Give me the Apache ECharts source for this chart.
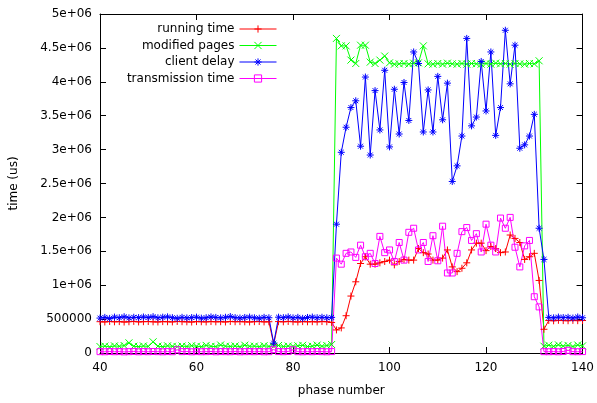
<!DOCTYPE html>
<html>
<head>
<meta charset="utf-8">
<script src="https://cdn.jsdelivr.net/npm/echarts@6/dist/echarts.min.js"></script>
<style>
  html, body { margin: 0; padding: 0; background: #fff; }
  #chart { width: 597px; height: 403px; }
</style>
</head>
<body>
<div id="chart"></div>
<script>
// phase numbers 40..140
const phases = Array.from({length: 101}, (_, i) => 40 + i);

const runningTime = [
  462000, 458000, 465000, 460000, 463000, 457000, 461000, 466000, 459000, 462000,
  464000, 460000, 458000, 463000, 461000, 459000, 465000, 462000, 460000, 457000,
  463000, 461000, 459000, 464000, 460000, 462000, 458000, 465000, 461000, 463000,
  460000, 458000, 462000, 464000, 459000, 461000, 130000, 463000, 460000, 465000,
  461000, 458000, 463000, 460000, 462000, 459000, 464000, 461000, 450000,
  340000, 370000, 550000, 840000, 1050000, 1320000, 1420000, 1310000, 1310000, 1330000,
  1350000, 1370000, 1300000, 1350000, 1380000, 1370000, 1370000, 1540000, 1480000, 1460000,
  1370000, 1370000, 1400000, 1520000, 1270000, 1200000, 1250000, 1330000, 1520000, 1620000,
  1620000, 1510000, 1570000, 1540000, 1480000, 1490000, 1740000, 1690000, 1630000, 1380000,
  1420000, 1470000, 1070000,
  350000, 480000, 475000, 482000, 478000, 476000, 481000, 477000, 479000
];

const modifiedPages = [
  95000, 102000, 90000, 105000, 98000, 110000, 150000, 100000, 93000, 104000,
  97000, 165000, 101000, 92000, 106000, 99000, 94000, 103000, 96000, 108000,
  100000, 93000, 112000, 98000, 95000, 118000, 101000, 97000, 104000, 92000,
  115000, 99000, 102000, 94000, 108000, 97000, 100000, 111000, 96000, 103000,
  98000, 106000, 114000, 95000, 101000, 117000, 99000, 110000, 125000,
  4640000, 4530000, 4530000, 4320000, 4270000, 4540000, 4540000, 4290000, 4270000, 4320000,
  4380000, 4280000, 4260000, 4265000, 4270000, 4260000, 4275000, 4280000, 4530000, 4265000,
  4260000, 4270000, 4260000, 4275000, 4265000, 4260000, 4270000, 4260000, 4270000, 4265000,
  4260000, 4270000, 4260000, 4275000, 4265000, 4270000, 4260000, 4270000, 4265000, 4260000,
  4270000, 4265000, 4310000,
  100000, 115000, 98000, 120000, 102000, 112000, 96000, 118000, 105000
];

const clientDelay = [
  515000, 525000, 510000, 530000, 520000, 535000, 518000, 527000, 522000, 531000,
  524000, 536000, 519000, 528000, 533000, 521000, 512000, 526000, 517000, 523000,
  529000, 514000, 520000, 532000, 525000, 518000, 527000, 538000, 522000, 516000,
  524000, 530000, 519000, 513000, 526000, 520000, 145000, 528000, 521000, 533000,
  518000, 526000, 511000, 524000, 530000, 520000, 527000, 519000, 525000,
  1900000, 2960000, 3330000, 3620000, 3720000, 3050000, 4070000, 2920000, 3870000, 3290000,
  4170000, 3040000, 3890000, 3230000, 3990000, 3430000, 4440000, 4270000, 3260000, 3880000,
  3260000, 4080000, 3440000, 3980000, 2530000, 2760000, 3200000, 4640000, 3350000, 3480000,
  4300000, 3570000, 4440000, 3210000, 3620000, 4760000, 3970000, 4540000, 3020000, 3070000,
  3200000, 3520000, 1840000,
  1380000, 525000, 518000, 530000, 522000, 527000, 515000, 531000, 520000
];

const transmissionTime = [
  20000, 18000, 22000, 19000, 21000, 17000, 20000, 23000, 18000, 21000,
  19000, 22000, 20000, 18000, 21000, 19000, 48000, 20000, 22000, 18000,
  21000, 19000, 20000, 23000, 18000, 21000, 20000, 19000, 22000, 18000,
  20000, 21000, 19000, 22000, 18000, 20000, 50000, 21000, 19000, 22000,
  48000, 20000, 18000, 21000, 19000, 22000, 20000, 18000, 21000,
  1400000, 1310000, 1470000, 1490000, 1410000, 1590000, 1420000, 1470000, 1320000, 1720000,
  1480000, 1520000, 1350000, 1630000, 1370000, 1780000, 1840000, 1520000, 1630000, 1350000,
  1730000, 1360000, 1870000, 1180000, 1180000, 1470000, 1790000, 1850000, 1660000, 1760000,
  1490000, 1900000, 1590000, 1490000, 1990000, 1840000, 2000000, 1560000, 1270000, 1580000,
  1660000, 830000, 680000,
  20000, 19000, 21000, 18000, 22000, 40000, 20000, 19000, 21000
];

// gnuplot-like point types
const PLUS = 'path://M0,5L10,5M5,0L5,10';
const CROSS = 'path://M0,0L10,10M0,10L10,0';
const STAR = 'path://M0,5L10,5M5,0L5,10M1.5,1.5L8.5,8.5M1.5,8.5L8.5,1.5';
const SQUARE = 'path://M0,0L10,0L10,10L0,10Z';

const FONT = 'DejaVu Sans';

function mkSeries(name, vals, color, symbol, size) {
  return {
    name: name,
    type: 'line',
    data: phases.map((p, i) => [p, vals[i]]),
    symbol: symbol,
    symbolSize: size,
    showSymbol: true,
    lineStyle: {color: color, width: 1},
    itemStyle: {color: 'rgba(0,0,0,0)', borderColor: color, borderWidth: 1},
    emphasis: {disabled: true},
    z: 2
  };
}

function yFmt(v) {
  if (v === 0) return '0';
  if (v < 1000000) return String(v);
  return (v / 1000000) + 'e+06';
}

const legendRow = (name, top) => ({
  data: [name],
  orient: 'vertical',
  align: 'right',
  right: 320,
  top: top,
  padding: 0,
  itemWidth: 37,
  itemHeight: 9,
  lineStyle: {width: 1},
  itemStyle: {color: 'rgba(0,0,0,0)', borderWidth: 1},
  textStyle: {color: '#000', fontSize: 12, fontFamily: FONT},
  selectedMode: false
});

const chart = echarts.init(document.getElementById('chart'), null, {renderer: 'canvas'});
chart.setOption({
  animation: false,
  backgroundColor: '#fff',
  textStyle: {fontFamily: FONT},
  grid: {left: 99, right: 11, top: 14, bottom: 50},
  legend: [
    legendRow('running time', 23),
    legendRow('modified pages', 39.5),
    legendRow('client delay', 56),
    legendRow('transmission time', 72.5)
  ],
  xAxis: [
    {
      type: 'value', min: 40, max: 140, interval: 20,
      name: 'phase number', nameLocation: 'middle', nameGap: 32,
      nameTextStyle: {color: '#000', fontSize: 12, fontFamily: FONT},
      axisLine: {show: true, lineStyle: {color: '#000', width: 1}},
      axisTick: {show: true, inside: true, length: 6, lineStyle: {color: '#000'}},
      axisLabel: {color: '#000', fontSize: 12, fontFamily: FONT, margin: 9},
      splitLine: {show: false}
    },
    {
      type: 'value', min: 40, max: 140, interval: 20, position: 'top',
      axisLine: {show: true, onZero: false, lineStyle: {color: '#000', width: 1}},
      axisTick: {show: true, inside: true, length: 6, lineStyle: {color: '#000'}},
      axisLabel: {show: false},
      splitLine: {show: false}
    }
  ],
  yAxis: [
    {
      type: 'value', min: 0, max: 5000000, interval: 500000,
      name: 'time (us)', nameLocation: 'middle', nameGap: 80,
      nameTextStyle: {color: '#000', fontSize: 12, fontFamily: FONT},
      axisLine: {show: true, lineStyle: {color: '#000', width: 1}},
      axisTick: {show: true, inside: true, length: 6, lineStyle: {color: '#000'}},
      axisLabel: {color: '#000', fontSize: 12, fontFamily: FONT, margin: 8, formatter: yFmt},
      splitLine: {show: false}
    },
    {
      type: 'value', min: 0, max: 5000000, interval: 500000, position: 'right',
      axisLine: {show: true, onZero: false, lineStyle: {color: '#000', width: 1}},
      axisTick: {show: true, inside: true, length: 6, lineStyle: {color: '#000'}},
      axisLabel: {show: false},
      splitLine: {show: false}
    }
  ],
  series: [
    mkSeries('running time', runningTime, '#ff0000', PLUS, 7),
    mkSeries('modified pages', modifiedPages, '#00ff00', CROSS, 7),
    mkSeries('client delay', clientDelay, '#0000ff', STAR, 7),
    mkSeries('transmission time', transmissionTime, '#ff00ff', SQUARE, 6)
  ]
});
</script>
</body>
</html>
